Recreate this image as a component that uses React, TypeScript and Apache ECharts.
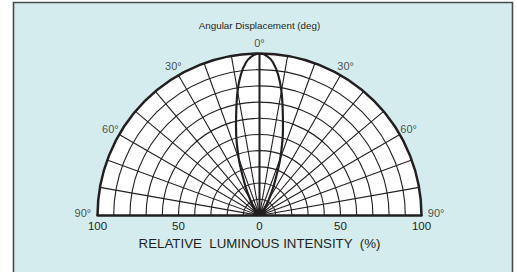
import React, { useEffect, useRef } from 'react';
import * as echarts from 'echarts';

// Angle tick labels (degrees from the optical axis)
const angleTicks = [-90, -60, -30, 0, 30, 60, 90];
// Radiation pattern (relative luminous intensity, %)
const lobeAngles = [-50, -45, -40, -35, -30, -25, -20, -15, -10, -5, 0, 5, 10, 15, 20, 25, 30, 35, 40, 45, 50];
const lobeIntensity = [0, 2.5, 4.5, 7.5, 12, 21.5, 37.5, 56, 78, 95, 100, 95, 78, 56, 37.5, 21.5, 12, 7.5, 4.5, 2.5, 0];
// Bottom intensity scale
const intensityMin = -100;
const intensityMax = 100;
const intensityStep = 50;

const titleText = 'Angular Displacement (deg)';
const xTitle = 'RELATIVE  LUMINOUS INTENSITY  (%)';

const FONT = '"Liberation Sans", Arial, Helvetica, sans-serif';
const INK = '#231f20';
const BG = '#d5ecef';

const CX = 259.5;
const CY = 215.5;
const R = 162;

export default function App() {
  const ref = useRef<HTMLDivElement>(null);
  useEffect(() => {
    if (!ref.current) return;
    const chart = echarts.init(ref.current, null, { renderer: 'svg' });
    const option: any = {
      animation: false,
      backgroundColor: '#ffffff',
      textStyle: { fontFamily: FONT },
      title: {
        text: titleText,
        left: CX,
        top: 20,
        padding: 0,
        textAlign: 'center',
        textStyle: { fontSize: 9.8, fontWeight: 'normal', color: INK, fontFamily: FONT },
      },
      graphic: [
        {
          type: 'rect',
          z: -100,
          silent: true,
          shape: { x: 13.5, y: 2.5, width: 499, height: 290 },
          style: { fill: BG, stroke: '#4a4a4a', lineWidth: 1.6 },
        },
      ],
      polar: { center: [CX, CY], radius: R },
      angleAxis: {
        type: 'value',
        min: -90,
        max: 90,
        interval: 10,
        startAngle: 180,
        endAngle: 0,
        clockwise: true,
        z: 1,
        axisLine: { show: true, lineStyle: { color: INK, width: 2.5 } },
        axisTick: { show: false },
        axisLabel: { show: false },
        splitLine: { show: true, lineStyle: { color: INK, width: 1.1 } },
      },
      radiusAxis: {
        type: 'value',
        min: 0,
        max: 100,
        interval: 10,
        z: 1,
        axisLine: { show: false },
        axisTick: { show: false },
        axisLabel: { show: false },
        splitLine: { show: true, lineStyle: { color: INK, width: 1.1 } },
      },
      grid: { left: CX - R, width: 2 * R, top: CY - 20, height: 20 },
      xAxis: {
        type: 'value',
        min: intensityMin,
        max: intensityMax,
        interval: intensityStep,
        z: 3,
        axisLine: { show: true, onZero: false, lineStyle: { color: INK, width: 2.5 } },
        axisTick: { show: false },
        splitLine: { show: false },
        axisLabel: {
          margin: 4,
          fontSize: 11.5,
          color: INK,
          fontFamily: FONT,
          formatter: (v: number) => String(Math.abs(v)),
        },
        name: xTitle,
        nameLocation: 'middle',
        nameGap: 21,
        nameTextStyle: { fontSize: 13.3, color: INK, fontFamily: FONT },
      },
      yAxis: { type: 'value', show: false, min: 0, max: 1 },
      series: [
        {
          type: 'pie',
          center: [CX, CY],
          radius: [0, R],
          startAngle: 180,
          endAngle: 0,
          clockwise: true,
          silent: true,
          z: -1,
          label: { show: false },
          labelLine: { show: false },
          itemStyle: { color: '#ffffff', borderWidth: 0 },
          data: [{ value: 1, name: 'bg' }],
        },
        {
          type: 'line',
          coordinateSystem: 'polar',
          data: [[0, 0], [100, 0]],
          showSymbol: false,
          clip: false,
          lineStyle: { color: INK, width: 2 },
          z: 3,
        },
        {
          type: 'line',
          coordinateSystem: 'polar',
          data: lobeAngles.map((a, i) => [lobeIntensity[i], a]),
          smooth: 0.35,
          showSymbol: false,
          clip: false,
          lineStyle: { color: INK, width: 2.2 },
          z: 4,
        },
        {
          type: 'scatter',
          coordinateSystem: 'polar',
          clip: false,
          symbolSize: 0,
          itemStyle: { color: INK },
          data: angleTicks.map((a) => ({
            value: [Math.abs(a) === 90 ? 109 : 106.3, a],
            label: Math.abs(a) === 90 ? { offset: [0, -3] } : {},
          })),
          label: {
            show: true,
            position: 'inside',
            fontSize: 11,
            color: INK,
            fontFamily: FONT,
            formatter: (p: any) => Math.abs(p.value[1]) + '°',
          },
          z: 5,
        },
      ],
    };
    chart.setOption(option);
    return () => chart.dispose();
  }, []);
  return (
    <div
      ref={ref}
      style={{ position: 'fixed', left: 0, top: 0, width: 517, height: 272 }}
    />
  );
}
